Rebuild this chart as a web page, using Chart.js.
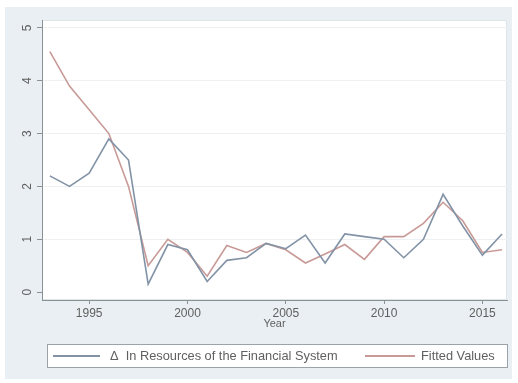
<!DOCTYPE html>
<html><head><meta charset="utf-8">
<script src="https://cdn.jsdelivr.net/npm/chart.js@4/dist/chart.umd.min.js"></script>
<style>html,body{margin:0;padding:0;background:#fff}#w{width:518px;height:383px}</style>
</head><body><div id="w"><canvas id="c" width="518" height="383"></canvas></div>
<script>
const years = [1993,1994,1995,1996,1997,1998,1999,2000,2001,2002,2003,2004,2005,2006,2007,2008,2009,2010,2011,2012,2013,2014,2015,2016];
const actual = [2.2,2.0,2.25,2.9,2.5,0.15,0.9,0.8,0.2,0.6,0.65,0.92,0.82,1.08,0.55,1.1,1.05,1.0,0.65,1.0,1.85,1.25,0.7,1.1];
const fitted = [4.55,3.9,3.45,3.0,2.0,0.5,1.0,0.75,0.3,0.88,0.75,0.92,0.8,0.55,0.72,0.9,0.62,1.05,1.05,1.3,1.7,1.35,0.75,0.8];
const xTicks = [1995,2000,2005,2010,2015];
const yTicks = [0,1,2,3,4,5];
const seriesLabels = ['\u0394  In Resources of the Financial System','Fitted Values'];
const xTitle = 'Year';

const BLUE = '#8293a6', RED = '#c89a97', FONT = '"Liberation Sans", Arial, sans-serif', TXT = '#606060';

const bgPlugin = {
  id: 'stataBg',
  beforeDraw(chart) {
    const ctx = chart.ctx, a = chart.chartArea;
    ctx.save();
    ctx.fillStyle = '#e9eff2';
    ctx.fillRect(5, 7, 507, 372);
    ctx.fillStyle = '#ffffff';
    ctx.fillRect(a.left, a.top, a.right - a.left, a.bottom - a.top);
    ctx.strokeStyle = '#dfe6ea';
    ctx.lineWidth = 1;
    ctx.strokeRect(a.left + 0.5, a.top + 0.5, a.right - a.left - 1, a.bottom - a.top - 1);
    ctx.restore();
  },
  afterDraw(chart) {
    const ctx = chart.ctx, a = chart.chartArea, ys = chart.scales.y;
    ctx.save();
    ctx.fillStyle = TXT;
    ctx.font = '12px ' + FONT;
    ctx.textAlign = 'center';
    ctx.textBaseline = 'middle';
    yTicks.forEach(v => {
      const py = ys.getPixelForValue(v);
      ctx.save();
      ctx.translate(28, py);
      ctx.rotate(-Math.PI / 2);
      ctx.fillText(String(v), 0, 0);
      ctx.restore();
    });
    ctx.font = '11px ' + FONT;
    ctx.fillText(xTitle, (a.left + a.right) / 2, 324);
    ctx.strokeStyle = '#9aa3a8';
    ctx.lineWidth = 1;
    ctx.fillStyle = '#ffffff';
    ctx.fillRect(47.5, 344.5, 460, 23);
    ctx.strokeRect(47.5, 344.5, 460, 23);
    ctx.font = '12.8px ' + FONT;
    ctx.textAlign = 'left';
    const items = [{x1: 53, x2: 100, tx: 110}, {x1: 365, x2: 415, tx: 421}];
    chart.data.datasets.forEach((ds, i) => {
      const it = items[i];
      ctx.strokeStyle = ds.borderColor;
      ctx.lineWidth = 1.8;
      ctx.beginPath(); ctx.moveTo(it.x1, 356); ctx.lineTo(it.x2, 356); ctx.stroke();
      ctx.fillStyle = TXT;
      ctx.fillText(ds.label, it.tx, 356.5);
    });
    ctx.restore();
  }
};

new Chart(document.getElementById('c'), {
  type: 'line',
  data: {
    datasets: [
      {label: seriesLabels[0], data: years.map((y, i) => ({x: y, y: actual[i]})), borderColor: BLUE, borderWidth: 1.6, pointRadius: 0, tension: 0, fill: false},
      {label: seriesLabels[1], data: years.map((y, i) => ({x: y, y: fitted[i]})), borderColor: RED, borderWidth: 1.6, pointRadius: 0, tension: 0, fill: false}
    ]
  },
  options: {
    responsive: false,
    animation: false,
    devicePixelRatio: 1,
    layout: {padding: {left: 0, right: 11, top: 20, bottom: 0}},
    plugins: {legend: {display: false}, tooltip: {enabled: false}},
    scales: {
      x: {
        type: 'linear', min: 1992.6, max: 2016.25,
        afterBuildTicks: s => { s.ticks = xTicks.map(v => ({value: v})); },
        afterFit: s => { s.height = 83; },
        border: {display: true, color: '#8a9296', width: 1},
        grid: {drawOnChartArea: false, drawTicks: true, tickLength: 4, tickColor: '#8a9296'},
        ticks: {color: TXT, font: {family: FONT, size: 12}, padding: 2, maxRotation: 0, callback: v => String(v)}
      },
      y: {
        type: 'linear', min: -0.15, max: 5.15,
        afterBuildTicks: s => { s.ticks = yTicks.map(v => ({value: v})); },
        afterFit: s => { s.width = 42; },
        border: {display: true, color: '#8a9296', width: 1},
        grid: {color: ctx => (ctx.tick && ctx.tick.value === 0) ? 'rgba(0,0,0,0)' : '#edf1f4', drawTicks: true, tickLength: 5, tickColor: '#8a9296', lineWidth: 1},
        ticks: {display: false}
      }
    }
  },
  plugins: [bgPlugin]
});
</script></body></html>
